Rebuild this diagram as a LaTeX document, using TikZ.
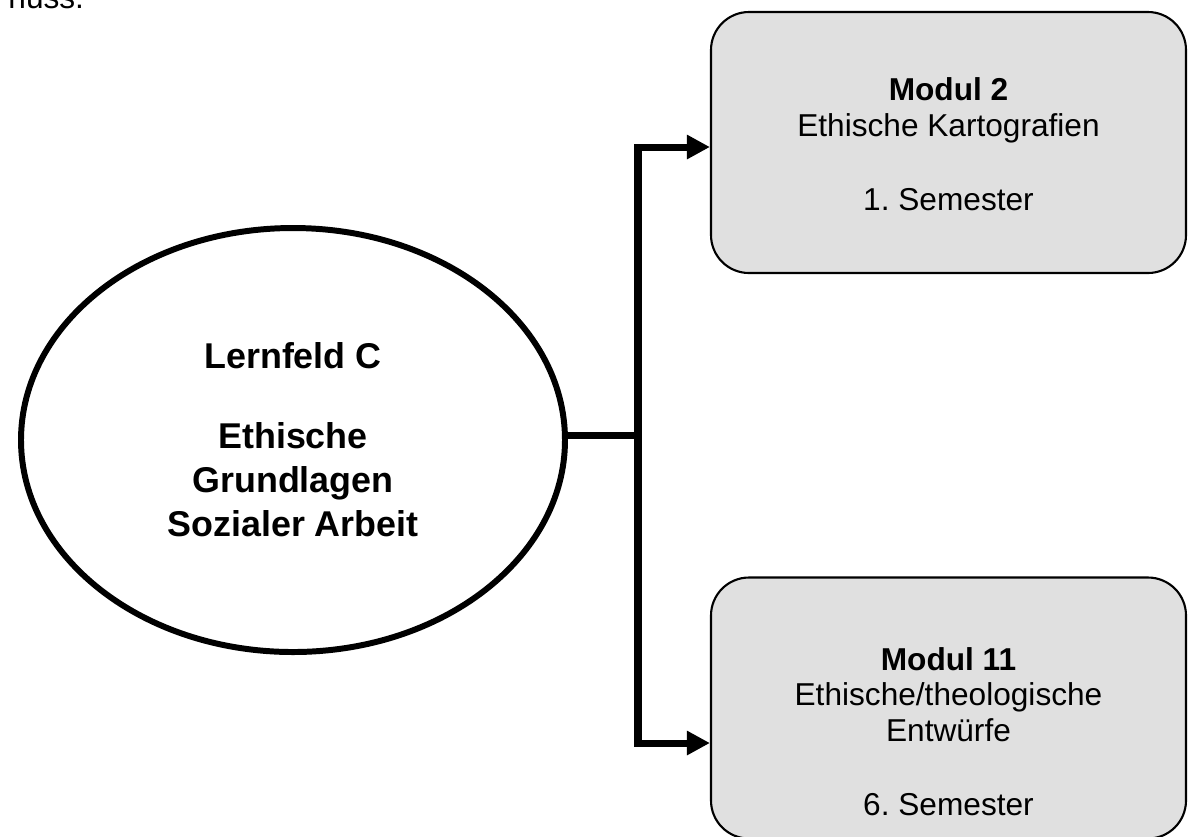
\documentclass[tikz,border=0pt]{standalone}
\usepackage{fontspec}
\setmainfont{Liberation Sans}
\usetikzlibrary{shapes.geometric,arrows.meta}
\definecolor{boxgray}{HTML}{E0E0E0}
\frenchspacing

\begin{document}
\begin{tikzpicture}[
   feld/.style={ellipse,draw,line width=1.7pt,minimum width=5.44cm,minimum height=4.24cm,inner sep=0pt,align=center,font=\fontsize{10.2pt}{12.5pt}\selectfont\bfseries},
   modbox/.style={draw,line width=0.6pt,fill=boxgray,rounded corners=0.38cm,minimum width=4.75cm,minimum height=2.61cm,inner sep=0pt},
   modtext/.style={align=center,font=\fontsize{9pt}{10.1pt}\selectfont},
   link/.style={line width=2pt},
   tip/.style={-{Triangle[length=0.23cm,width=0.23cm]}}
]
\useasboundingbox (0,0) rectangle (11.89,-8.36);

 \node [anchor=base west] (rest) at (-0.04,-0.08) {\fontsize{9pt}{10pt}\selectfont nuss.};

 \node [feld] (lf) at (2.93,-4.40) {Lernfeld C\\[0.36cm]Ethische\\Grundlagen\\Sozialer Arbeit};

 \node [modbox] (m2) at (9.485,-1.425) {};
 \node [modtext] (m2txt) at (9.485,-1.445) {\textbf{Modul 2}\\Ethische Kartografien\\[0.39cm]1. Semester};

 \node [modbox] (m11) at (9.485,-7.08) {};
 \node [modtext] (m11txt) at (9.485,-7.315) {\textbf{Modul 11}\\Ethische/theologische\\Entwürfe\\[0.39cm]6. Semester};

\coordinate (fork) at (6.38,-4.35);
\draw [link] (fork -| lf.east) -- (fork);
\draw [link,tip] (fork) |- ([yshift=-0.045cm]m2.west);
\draw [link,tip] (fork) |- ([yshift=-0.35cm]m11.west);

\end{tikzpicture}
\end{document}
